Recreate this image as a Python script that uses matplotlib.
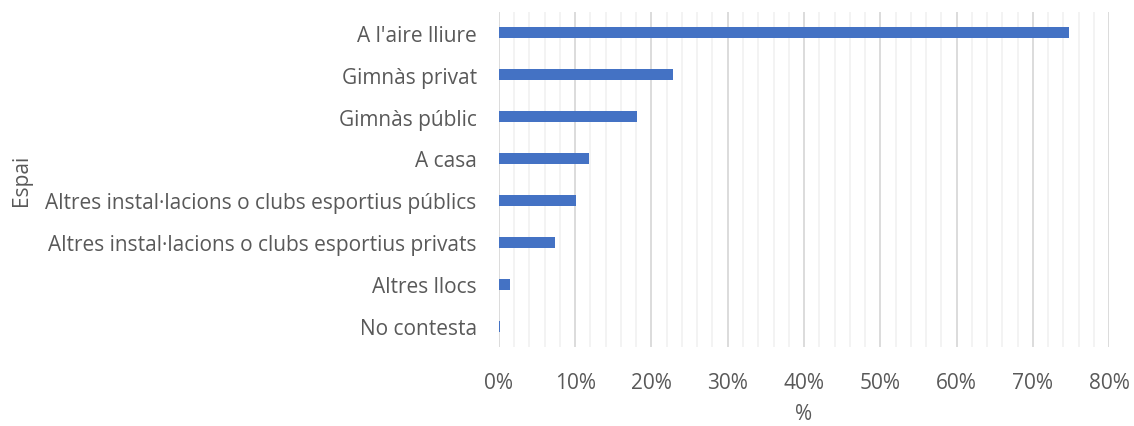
import matplotlib
matplotlib.use("Agg")
import matplotlib.pyplot as plt
from matplotlib.ticker import MultipleLocator, PercentFormatter

# categories, top to bottom as in the chart
espais = [
    "A l'aire lliure",
    "Gimnàs privat",
    "Gimnàs públic",
    "A casa",
    "Altres instal·lacions o clubs esportius públics",
    "Altres instal·lacions o clubs esportius privats",
    "Altres llocs",
    "No contesta",
]
percentatges = [74.7, 22.8, 18.1, 11.8, 10.1, 7.4, 1.4, 0.2]

BAR = "#4472c4"
TXT = "#595959"

plt.rcParams['font.family'] = ['Open Sans', 'DejaVu Sans']

fig = plt.figure(figsize=(11.34, 4.27), dpi=100)
ax = fig.add_axes([0.44, 0.185, 0.538, 0.785])

pos = list(range(len(espais)))
ax.barh(pos, percentatges, height=0.26, color=BAR, zorder=3)

ax.set_ylim(len(espais) - 0.5, -0.5)
ax.set_yticks(pos)
ax.set_yticklabels(espais)
ax.set_xlim(0, 80)
ax.xaxis.set_major_locator(MultipleLocator(10))
ax.xaxis.set_minor_locator(MultipleLocator(2))
ax.xaxis.set_major_formatter(PercentFormatter(decimals=0))

ax.grid(axis='x', which='major', color='#d9d9d9', linewidth=1.3, zorder=0)
ax.grid(axis='x', which='minor', color='#f2f2f2', linewidth=1.3, zorder=0)
for s in ax.spines.values():
    s.set_visible(False)
ax.tick_params(axis='both', which='both', length=0, labelsize=15, labelcolor=TXT)
ax.tick_params(axis='y', pad=16)
ax.tick_params(axis='x', pad=18)

ax.set_xlabel('%', fontsize=15, color=TXT, labelpad=7)
ax.set_ylabel('Espai', fontsize=15, color=TXT)
ax.yaxis.set_label_coords(-0.765, 0.5)

fig.savefig('out.png', dpi=100)
